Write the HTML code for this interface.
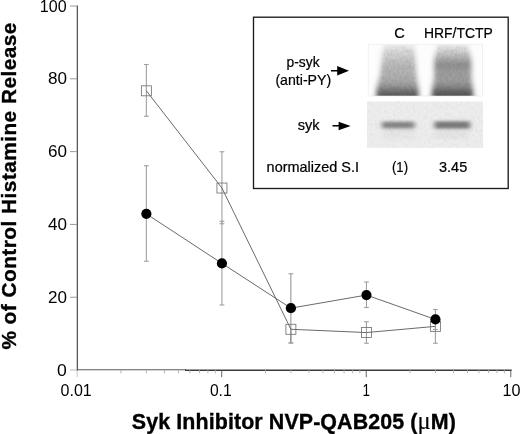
<!DOCTYPE html>
<html><head><meta charset="utf-8"><title>Syk Inhibitor NVP-QAB205 figure</title>
<style>
html,body{margin:0;padding:0;background:#fff;}
body{width:520px;height:434px;overflow:hidden;}
svg{display:block;}
text{font-family:"Liberation Sans",Arial,Helvetica,sans-serif;fill:#000;}
.mu{font-family:"Liberation Serif","DejaVu Serif",serif;font-weight:normal;font-size:24.5px;stroke-width:0.15px;}
.b{font-weight:bold;fill:#000;stroke:#000;stroke-width:0.35px;}
.i{stroke:#000;stroke-width:0.22px;}
</style></head><body>
<svg width="520" height="434" viewBox="0 0 520 434">
<defs>
<filter id="bl1" x="-20%" y="-20%" width="140%" height="140%"><feGaussianBlur stdDeviation="2.4 2"/></filter>
<filter id="bl2" x="-20%" y="-40%" width="140%" height="180%"><feGaussianBlur stdDeviation="2.6 1.8"/></filter>
<linearGradient id="g1" x1="0" y1="44" x2="0" y2="97" gradientUnits="userSpaceOnUse">
<stop offset="0" stop-color="#f2f2f2"/><stop offset="0.14" stop-color="#d8d8d8"/><stop offset="0.4" stop-color="#b8b8b8"/><stop offset="0.68" stop-color="#acacac"/><stop offset="0.8" stop-color="#969696"/><stop offset="0.9" stop-color="#686868"/><stop offset="1" stop-color="#5a5a5a"/>
</linearGradient>
<linearGradient id="g2" x1="0" y1="44" x2="0" y2="97" gradientUnits="userSpaceOnUse">
<stop offset="0" stop-color="#f0f0f0"/><stop offset="0.12" stop-color="#d4d4d4"/><stop offset="0.24" stop-color="#b6b6b6"/><stop offset="0.34" stop-color="#989898"/><stop offset="0.42" stop-color="#8e8e8e"/><stop offset="0.52" stop-color="#9e9e9e"/><stop offset="0.7" stop-color="#9e9e9e"/><stop offset="0.8" stop-color="#8a8a8a"/><stop offset="0.9" stop-color="#606060"/><stop offset="1" stop-color="#525252"/>
</linearGradient>
<filter id="nz" x="0" y="0" width="100%" height="100%"><feTurbulence type="fractalNoise" baseFrequency="0.45 0.3" numOctaves="2" seed="7"/><feColorMatrix type="matrix" values="0 0 0 0 0  0 0 0 0 0  0 0 0 0 0  1.1 0 0 0 -0.42"/></filter>
<clipPath id="c3"><polygon points="384.5,46 413.5,46 415.5,75 417,95.8 378,95.8 381,75"/><polygon points="438.5,46 467,46 470,60 470,78 471.5,95.8 433.5,95.8 435.5,78 435.5,60"/></clipPath>
<clipPath id="c1"><rect x="368" y="44" width="114.5" height="51.8"/></clipPath>
<clipPath id="c2"><rect x="367" y="101.5" width="116" height="46.5"/></clipPath>
</defs>
<rect width="520" height="434" fill="#fff"/>

<g stroke="#3a3a3a" stroke-width="1.1" fill="none"><path d="M77.30000000000001 5.5V370.65000000000003"/><path d="M76.80000000000001 369.75H186" stroke="#5a5a5a" stroke-width="1"/><path d="M185 370.25H511.7" stroke-width="1.3"/></g>
<g stroke="#9a9a9a" stroke-width="1">
<path d="M70 370.05H76.9" stroke="#bbb"/>
<path d="M70 297.24H76.9"/>
<path d="M70 224.43H76.9"/>
<path d="M70 151.62H76.9"/>
<path d="M70 78.81H76.9"/>
<path d="M70 6.00H76.9"/>
<path d="M77.20 370.55V377.2" stroke="#c8c8c8"/>
<path d="M221.73 370.55V377.2" stroke="#666"/>
<path d="M366.26 370.55V377.2" stroke="#666"/>
<path d="M510.79 370.55V377.2" stroke="#666"/>
</g><g stroke="#aaa" stroke-width="0.9">
<path d="M120.91 370.05V373.3"/>
<path d="M146.36 370.05V373.3"/>
<path d="M164.42 370.05V373.3"/>
<path d="M178.42 370.05V373.3"/>
<path d="M189.87 370.05V373.3"/>
<path d="M199.54 370.05V373.3"/>
<path d="M207.92 370.05V373.3"/>
<path d="M215.32 370.05V373.3"/>
<path d="M265.44 370.05V373.3"/>
<path d="M290.89 370.05V373.3"/>
<path d="M308.95 370.05V373.3"/>
<path d="M322.95 370.05V373.3"/>
<path d="M334.40 370.05V373.3"/>
<path d="M344.07 370.05V373.3"/>
<path d="M352.45 370.05V373.3"/>
<path d="M359.85 370.05V373.3"/>
<path d="M409.97 370.05V373.3"/>
<path d="M435.42 370.05V373.3"/>
<path d="M453.48 370.05V373.3"/>
<path d="M467.48 370.05V373.3"/>
<path d="M478.93 370.05V373.3"/>
<path d="M488.60 370.05V373.3"/>
<path d="M496.98 370.05V373.3"/>
<path d="M504.38 370.05V373.3"/>
</g>
<text x="39.8" y="11.600000000000001" font-size="15.6" textLength="26.8" lengthAdjust="spacingAndGlyphs">100</text>
<text x="47.9" y="83.89999999999999" font-size="15.6" textLength="19" lengthAdjust="spacingAndGlyphs">80</text>
<text x="47.9" y="156.70000000000002" font-size="15.6" textLength="19" lengthAdjust="spacingAndGlyphs">60</text>
<text x="47.9" y="229.5" font-size="15.6" textLength="19" lengthAdjust="spacingAndGlyphs">40</text>
<text x="47.9" y="302.8" font-size="15.6" textLength="19" lengthAdjust="spacingAndGlyphs">20</text>
<text x="56.9" y="375.7" font-size="15.6" textLength="9.8" lengthAdjust="spacingAndGlyphs">0</text>
<text x="60.6" y="395.6" font-size="15.6" textLength="31.2" lengthAdjust="spacingAndGlyphs">0.01</text>
<text x="209.9" y="395.6" font-size="15.6" textLength="21.8" lengthAdjust="spacingAndGlyphs">0.1</text>
<text x="362.4" y="395.6" font-size="15.6" textLength="7.5" lengthAdjust="spacingAndGlyphs">1</text>
<text x="502.4" y="395.6" font-size="15.6" textLength="18" lengthAdjust="spacingAndGlyphs">10</text>
<text x="131.8" y="428.6" font-size="21.4" textLength="324" lengthAdjust="spacing" class="b">Syk Inhibitor NVP-QAB205 (<tspan class="mu">μ</tspan>M)</text>
<text transform="translate(16 349.6) rotate(-90)" font-size="20.8" class="b" textLength="327" lengthAdjust="spacing">% of Control Histamine Release</text>
<g stroke="#a0a0a0" stroke-width="1.1" fill="none">
<path d="M146.36 64.5V116.25"/>
<path d="M143.96 64.5h4.8"/>
<path d="M143.96 116.25h4.8"/>
<path d="M221.93 151.75V223.75"/>
<path d="M219.53 151.75h4.8"/>
<path d="M219.53 223.75h4.8"/>
<path d="M290.89 329.2764V343" stroke="#868686" stroke-width="0.95"/>
<path d="M288.49 343h4.8"/>
<path d="M366.46 321.75V343.25"/>
<path d="M364.06 321.75h4.8"/>
<path d="M364.06 343.25h4.8"/>
<path d="M435.42 326.36400000000003V343.25"/>
<path d="M433.02 343.25h4.8"/>
<path d="M146.36 165.75V261.25"/>
<path d="M143.96 165.75h4.8"/>
<path d="M143.96 261.25h4.8"/>
<path d="M221.93 221.25V305"/>
<path d="M219.53 221.25h4.8"/>
<path d="M219.53 305h4.8"/>
<path d="M290.89 273.75V343" stroke="#868686" stroke-width="0.95"/>
<path d="M288.49 273.75h4.8"/>
<path d="M288.49 343h4.8"/>
<path d="M366.46 282V307.5"/>
<path d="M364.06 282h4.8"/>
<path d="M364.06 307.5h4.8"/>
<path d="M435.42 309.5V329.5"/>
<path d="M433.02 309.5h4.8"/>
<path d="M433.02 329.5h4.8"/>
</g>
<polyline points="146.36,90.82 221.93,188.03 290.89,329.28 366.46,332.55 435.42,326.36" fill="none" stroke="#626262" stroke-width="0.95"/>
<polyline points="146.36,213.87 221.93,263.38 290.89,308.16 366.46,295.06 435.42,319.45" fill="none" stroke="#626262" stroke-width="0.95"/>
<rect x="141.36" y="85.82" width="10" height="10" fill="none" stroke="#6c6c6c" stroke-width="0.8"/>
<rect x="216.93" y="183.03" width="10" height="10" fill="none" stroke="#6c6c6c" stroke-width="0.8"/>
<rect x="285.89" y="324.28" width="10" height="10" fill="none" stroke="#6c6c6c" stroke-width="0.8"/>
<rect x="361.46" y="327.55" width="10" height="10" fill="none" stroke="#6c6c6c" stroke-width="0.8"/>
<rect x="430.42" y="321.36" width="10" height="10" fill="none" stroke="#6c6c6c" stroke-width="0.8"/>
<circle cx="146.36" cy="213.87" r="5.1" fill="#000"/>
<circle cx="221.93" cy="263.38" r="5.1" fill="#000"/>
<circle cx="290.89" cy="308.16" r="5.1" fill="#000"/>
<circle cx="366.46" cy="295.06" r="5.1" fill="#000"/>
<circle cx="435.42" cy="319.45" r="5.1" fill="#000"/>
<rect x="253.5" y="17.2" width="254.7" height="171.3" fill="#fff" stroke="#1c1c1c" stroke-width="1.35"/>
<rect x="368.2" y="44.2" width="114.2" height="51.8" fill="#fdfdfd" stroke="#ededed" stroke-width="0.8"/>
<g clip-path="url(#c1)"><g filter="url(#bl1)">
<polygon points="383.5,42 414.5,42 416.5,75 418.5,88 419,100 376,100 376.5,88 380,75" fill="url(#g1)"/>
<polygon points="437.5,42 468,42 471.5,60 471.5,78 473,89 473.5,100 431.5,100 432,89 434,78 434,60" fill="url(#g2)"/>
</g></g>
<rect x="367" y="101.5" width="116" height="46.3" fill="#ededed"/>
<g clip-path="url(#c2)"><g filter="url(#bl2)">
<rect x="383" y="127" width="31" height="12" fill="#e5e5e5"/><rect x="435" y="127" width="33" height="12" fill="#e4e4e4"/><rect x="382" y="121.6" width="32.5" height="7" fill="#868686"/>
<rect x="434.5" y="121.3" width="35.5" height="7.6" fill="#7c7c7c"/>
</g></g>
<g clip-path="url(#c3)"><rect x="368.5" y="44.5" width="113.5" height="51" filter="url(#nz)" opacity="0.16"/></g><rect x="367" y="101.5" width="116" height="46.3" filter="url(#nz)" opacity="0.07"/>
<text x="394.3" y="38.35" font-size="14.6" class="i">C</text>
<text x="424" y="38.35" font-size="14.6" textLength="68.8" lengthAdjust="spacingAndGlyphs" class="i">HRF/TCTP</text>
<text x="286.6" y="67.3" font-size="14.6" textLength="33" lengthAdjust="spacingAndGlyphs" class="i">p-syk</text>
<text x="275.4" y="84.85" font-size="14.6" textLength="55.8" lengthAdjust="spacingAndGlyphs" class="i">(anti-PY)</text>
<text x="297.8" y="129.9" font-size="14.6" textLength="21.8" lengthAdjust="spacingAndGlyphs" class="i">syk</text>
<text x="266.6" y="172.45" font-size="14.6" textLength="92.4" lengthAdjust="spacingAndGlyphs" class="i">normalized S.I</text>
<text x="392" y="172.45" font-size="14.6" textLength="16" lengthAdjust="spacingAndGlyphs" class="i">(1)</text>
<text x="439" y="172.45" font-size="14.6" textLength="28.2" lengthAdjust="spacingAndGlyphs" class="i">3.45</text>
<g fill="#000" stroke="none"><rect x="331" y="70" width="8" height="1.5"/><polygon points="337.2,66 349,70.75 337.2,75.5"/>
<rect x="332.5" y="125" width="8" height="1.5"/><polygon points="338.6,121.7 350.6,125.9 338.6,130.2"/></g>
</svg></body></html>
